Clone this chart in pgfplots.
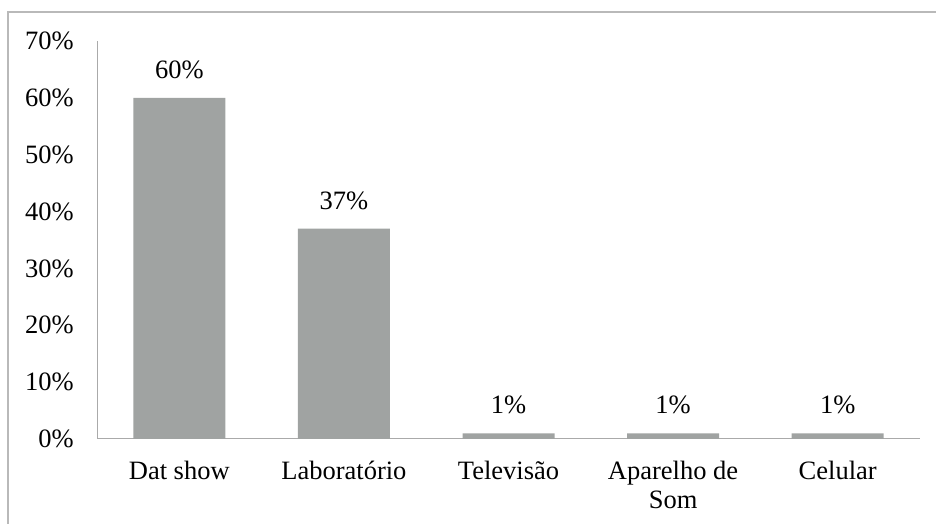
\documentclass[border=0pt]{standalone}
\usepackage{pgfplots}
\pgfplotsset{compat=1.18}
\usepackage{fontspec}
\setmainfont{Liberation Serif}
\definecolor{barcol}{RGB}{160,163,162}
\definecolor{axcol}{RGB}{170,170,170}
\definecolor{framecol}{RGB}{185,185,185}
\begin{document}
\fontsize{26.5}{29}\selectfont
\begin{tikzpicture}
\useasboundingbox (0,0) rectangle (936pt,524pt);
\draw[framecol, line width=2pt] (8pt,-20pt) -- (8pt,512pt) -- (960pt,512pt);
\begin{axis}[
  at={(97pt,85pt)}, anchor=south west,
  scale only axis, width=823pt, height=398pt,
  xmin=-0.5, xmax=4.5, ymin=0, ymax=70,
  ytick={0,10,...,70},
  xtick={0,1,2,3,4},
  xticklabels={Dat show, Laboratório, Televisão, {Aparelho de\\Som}, Celular},
  /pgf/number format/assume math mode=true,
  yticklabel={\pgfmathprintnumber{\tick}\%},
  axis x line*=bottom, axis y line*=left,
  axis line style={axcol, line width=1pt, -},
  major tick length=0pt,
  tick label style={font=\fontsize{26.5}{29}\selectfont, text=black},
  xticklabel style={align=center, yshift=-13pt},
  yticklabel style={anchor=east, inner xsep=0pt, xshift=-23pt},
  ybar, bar width=92pt,
  nodes near coords={\pgfmathprintnumber{\pgfplotspointmeta}\%},
  every node near coord/.append style={font=\fontsize{26.5}{29}\selectfont, text=black, yshift=10pt},
  clip=false,
]
\addplot[fill=barcol, draw=none] coordinates {(0,60) (1,37) (2,1) (3,1) (4,1)};
\end{axis}
\end{tikzpicture}
\end{document}
